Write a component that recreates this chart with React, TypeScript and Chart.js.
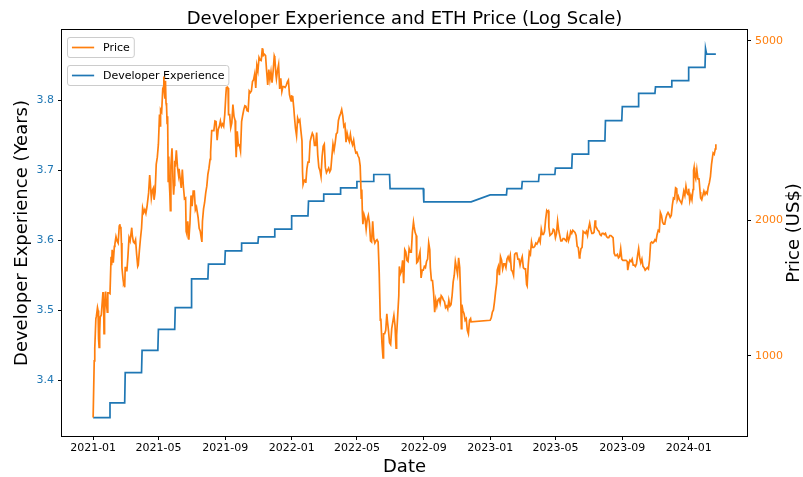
import React, { useEffect, useRef } from 'react';
import { Chart, registerables } from 'chart.js';

Chart.register(...registerables);

const FONT = "'DejaVu Sans', 'Liberation Sans', sans-serif";
const BLUE = '#1f77b4';
const ORANGE = '#ff7f0e';

const TITLE = 'Developer Experience and ETH Price (Log Scale)';
const X_TITLE = 'Date';
const Y_LEFT_TITLE = 'Developer Experience (Years)';
const Y_RIGHT_TITLE = 'Price (US$)';
const PRICE_LABEL = 'Price';
const DEV_LABEL = 'Developer Experience';

const xTickLabels = ['2021-01', '2021-05', '2021-09', '2022-01', '2022-05', '2022-09', '2023-01', '2023-05', '2023-09', '2024-01'];
const devTicks = [3.4, 3.5, 3.6, 3.7, 3.8];
const priceTicks = [1000, 2000, 5000];

// ETH price (US$): month, days of month, values (row i of days/values belongs to month i)
const priceMonths = [
  '2021-01', '2021-02', '2021-03', '2021-04', '2021-05', '2021-06', '2021-07', '2021-08', '2021-09', '2021-10', '2021-11', '2021-12',
  '2022-01', '2022-02', '2022-03', '2022-04', '2022-05', '2022-06', '2022-07', '2022-08', '2022-09', '2022-10', '2022-11',
  '2023-01', '2023-02', '2023-03', '2023-04', '2023-05', '2023-06', '2023-07', '2023-08', '2023-09', '2023-10', '2023-11', '2023-12',
  '2024-01', '2024-02',
];
const priceDays = [
  [1, 3, 4, 6, 7, 9, 10, 11, 12, 13, 14, 16, 19, 20, 21, 22, 24, 25, 27, 28, 30],
  [1, 3, 4, 5, 7, 9, 10, 12, 14, 16, 18, 19, 20, 21, 22, 23, 25, 26, 27, 28],
  [1, 3, 4, 6, 8, 10, 13, 14, 16, 18, 20, 22, 24, 25, 27, 29, 31],
  [2, 4, 6, 8, 10, 13, 15, 16, 18, 20, 22, 23, 25, 27, 29],
  [1, 3, 4, 5, 7, 9, 10, 11, 12, 13, 14, 15, 16, 17, 18, 19, 20, 21, 22, 23, 24, 26, 28, 29, 30, 31],
  [1, 3, 5, 7, 8, 10, 12, 14, 16, 18, 20, 21, 22, 24, 26, 28, 30],
  [2, 4, 6, 8, 10, 13, 15, 17, 19, 20, 21, 23, 25, 27, 29, 31],
  [2, 4, 5, 7, 9, 11, 13, 15, 17, 19, 21, 23, 25, 27, 29, 31],
  [2, 3, 5, 6, 7, 9, 11, 13, 15, 17, 19, 20, 21, 23, 25, 27, 29],
  [1, 3, 5, 7, 9, 11, 13, 15, 17, 19, 21, 23, 25, 27, 29, 31],
  [2, 4, 6, 8, 9, 10, 12, 14, 16, 18, 20, 22, 24, 26, 28, 30],
  [1, 3, 4, 6, 8, 10, 12, 14, 16, 18, 20, 22, 24, 26, 28, 30, 31],
  [1, 3, 5, 6, 8, 10, 12, 14, 16, 18, 20, 21, 22, 24, 26, 27, 29, 31],
  [2, 4, 6, 8, 10, 12, 14, 16, 18, 20, 22, 24, 26, 28],
  [2, 4, 6, 8, 10, 12, 14, 16, 18, 20, 22, 24, 26, 28, 30],
  [1, 3, 5, 7, 9, 11, 13, 15, 17, 19, 21, 23, 25, 27, 29],
  [1, 3, 5, 7, 9, 10, 11, 12, 14, 16, 18, 20, 22, 24, 26, 28, 30],
  [1, 3, 5, 7, 9, 11, 13, 14, 16, 18, 19, 21, 23, 25, 26, 28, 30],
  [2, 4, 6, 8, 10, 12, 13, 15, 17, 18, 20, 22, 24, 26, 28, 30],
  [1, 3, 5, 7, 9, 11, 13, 14, 16, 18, 19, 21, 23, 25, 27, 29, 31],
  [2, 4, 6, 8, 10, 12, 13, 15, 17, 19, 21, 23, 25, 27, 29],
  [1, 3, 5, 7, 9, 11, 13, 15, 17, 19, 21, 23, 25, 27, 29, 31],
  [2, 4, 6, 8, 9, 10, 12, 14, 16, 18, 20, 22, 24, 26, 27],
  [1, 3, 5, 7, 9, 11, 13, 14, 16, 18, 20, 22, 24, 26, 28, 30],
  [1, 3, 5, 7, 9, 11, 13, 15, 17, 19, 21, 23, 25, 27],
  [1, 3, 5, 7, 9, 10, 12, 14, 16, 18, 20, 22, 24, 26, 28, 30],
  [1, 3, 5, 7, 9, 11, 13, 15, 16, 18, 19, 21, 23, 25, 27, 29],
  [1, 3, 5, 7, 9, 11, 13, 15, 17, 19, 21, 23, 25, 27, 29, 31],
  [2, 4, 6, 8, 10, 12, 14, 15, 17, 19, 21, 23, 25, 27, 29],
  [1, 3, 5, 7, 9, 11, 13, 14, 16, 18, 20, 22, 24, 26, 28, 30],
  [1, 3, 5, 7, 9, 11, 13, 15, 17, 19, 21, 23, 25, 27, 29, 31],
  [2, 4, 6, 8, 10, 11, 13, 15, 17, 19, 21, 23, 25, 27, 29],
  [1, 3, 5, 7, 9, 11, 13, 15, 17, 19, 21, 23, 25, 27, 29, 31],
  [2, 4, 6, 8, 10, 12, 14, 16, 18, 20, 22, 24, 26, 28, 30],
  [2, 4, 6, 8, 10, 11, 13, 15, 17, 19, 21, 23, 25, 27, 29, 31],
  [1, 3, 5, 7, 9, 10, 11, 12, 14, 16, 18, 20, 22, 23, 25, 27, 29, 31],
  [2, 4, 6, 8, 10, 12, 14, 15, 17, 19, 20],
];
const priceValues = [
  [730, 975, 1040, 1208, 1225, 1280, 1262, 1090, 1045, 1130, 1220, 1233, 1380, 1380, 1120, 1235, 1390, 1325, 1250, 1380, 1380],
  [1375, 1660, 1590, 1720, 1610, 1750, 1770, 1840, 1800, 1780, 1940, 1960, 1920, 1935, 1780, 1570, 1480, 1450, 1460, 1420],
  [1570, 1570, 1540, 1665, 1830, 1800, 1925, 1850, 1790, 1780, 1810, 1680, 1580, 1590, 1710, 1820, 1920],
  [2130, 2080, 2110, 2070, 2140, 2300, 2520, 2430, 2240, 2330, 2360, 2220, 2310, 2660, 2760],
  [2950, 3430, 3240, 3520, 3480, 3910, 3950, 4170, 3830, 3720, 4080, 3640, 3580, 3280, 3400, 2440, 2770, 2430, 2300, 2100, 2640, 2890, 2420, 2280, 2390, 2710],
  [2630, 2860, 2630, 2520, 2600, 2470, 2360, 2590, 2370, 2230, 2240, 1890, 1870, 1990, 1810, 1970, 2270],
  [2150, 2320, 2320, 2110, 2140, 2030, 1920, 1890, 1820, 1790, 1990, 2120, 2190, 2300, 2380, 2530],
  [2610, 2730, 2830, 3160, 3160, 3160, 3320, 3310, 3010, 3180, 3230, 3320, 3230, 3270, 3230, 3430],
  [3790, 3940, 3950, 3930, 3430, 3430, 3210, 3290, 3610, 3400, 3330, 2980, 2760, 3150, 2930, 2940, 2850],
  [3310, 3420, 3520, 3590, 3580, 3500, 3490, 3870, 3840, 3870, 4060, 4100, 4220, 3930, 4410, 4290],
  [4590, 4530, 4520, 4800, 4810, 4640, 4670, 4640, 4280, 3990, 4320, 4100, 4270, 4040, 4290, 4630],
  [4590, 4220, 4120, 4300, 4430, 3910, 4130, 3860, 3960, 3960, 3940, 3980, 4050, 4090, 3800, 3710, 3680],
  [3770, 3760, 3540, 3410, 3200, 3080, 3370, 3310, 3340, 3160, 3000, 2560, 2400, 2450, 2460, 2420, 2600, 2690],
  [2690, 2990, 3060, 3120, 3080, 2930, 2930, 3130, 2790, 2620, 2580, 2500, 2770, 2920],
  [2950, 2620, 2550, 2580, 2610, 2560, 2590, 2770, 2950, 2860, 2970, 3110, 3130, 3330, 3400],
  [3450, 3520, 3410, 3230, 3260, 2980, 3120, 3040, 2990, 3100, 2990, 2940, 3010, 2890, 2820],
  [2830, 2780, 2750, 2640, 2240, 2340, 2080, 1960, 2060, 2020, 1910, 2010, 2050, 1970, 1800, 1790, 1990],
  [1820, 1780, 1800, 1810, 1790, 1530, 1200, 1210, 1070, 990, 1120, 1120, 1140, 1240, 1200, 1140, 1070],
  [1060, 1150, 1190, 1230, 1170, 1040, 1110, 1230, 1360, 1580, 1520, 1540, 1630, 1450, 1720, 1700],
  [1630, 1620, 1730, 1700, 1700, 1880, 1980, 1940, 1880, 1850, 1610, 1620, 1660, 1700, 1490, 1550, 1550],
  [1580, 1570, 1620, 1640, 1780, 1720, 1570, 1470, 1470, 1380, 1250, 1330, 1290, 1330, 1340],
  [1310, 1360, 1350, 1330, 1320, 1280, 1290, 1270, 1330, 1290, 1300, 1360, 1460, 1510, 1620, 1570],
  [1520, 1650, 1570, 1330, 1150, 1300, 1260, 1240, 1200, 1210, 1140, 1120, 1200, 1210, 1190],
  [1200, 1215, 1250, 1265, 1320, 1390, 1450, 1550, 1580, 1510, 1660, 1630, 1560, 1600, 1600, 1570],
  [1640, 1660, 1630, 1670, 1550, 1540, 1510, 1680, 1690, 1690, 1640, 1640, 1590, 1630],
  [1660, 1570, 1560, 1560, 1440, 1430, 1590, 1700, 1680, 1790, 1740, 1740, 1750, 1780, 1770, 1790],
  [1820, 1790, 1910, 1860, 1860, 1890, 2010, 2100, 2090, 2100, 1930, 1850, 1860, 1870, 1910, 1900],
  [1830, 1870, 1990, 1900, 1850, 1800, 1800, 1820, 1820, 1810, 1800, 1860, 1800, 1830, 1890, 1870],
  [1900, 1890, 1880, 1850, 1750, 1740, 1650, 1670, 1730, 1740, 1890, 1880, 1870, 1890, 1850],
  [1920, 1970, 1910, 1870, 1870, 1880, 2000, 1940, 1920, 1900, 1890, 1860, 1850, 1870, 1870, 1860],
  [1870, 1840, 1830, 1830, 1850, 1850, 1840, 1830, 1690, 1670, 1670, 1680, 1650, 1660, 1730, 1640],
  [1630, 1630, 1630, 1630, 1620, 1550, 1600, 1630, 1620, 1640, 1590, 1590, 1580, 1600, 1670],
  [1730, 1650, 1610, 1640, 1580, 1570, 1550, 1560, 1570, 1560, 1630, 1780, 1790, 1780, 1790, 1810],
  [1800, 1860, 1900, 1890, 2080, 2050, 1980, 1960, 1960, 2020, 2060, 2080, 2060, 2030, 2050],
  [2160, 2240, 2230, 2360, 2350, 2220, 2260, 2220, 2200, 2180, 2240, 2320, 2270, 2380, 2300, 2280],
  [2350, 2210, 2270, 2220, 2340, 2580, 2620, 2520, 2470, 2590, 2470, 2470, 2310, 2240, 2220, 2270, 2320, 2280],
  [2310, 2290, 2370, 2420, 2500, 2660, 2770, 2820, 2800, 2880, 2950],
];

// Developer experience (years): value held from each date to the next
const devDates = [
  '2021-01-01', '2021-01-31', '2021-02-01', '2021-02-28', '2021-03-01', '2021-03-31', '2021-04-01', '2021-04-30',
  '2021-05-01', '2021-05-31', '2021-06-01', '2021-06-30', '2021-07-01', '2021-07-31', '2021-08-01', '2021-08-31',
  '2021-09-01', '2021-09-30', '2021-10-01', '2021-10-31', '2021-11-01', '2021-11-30', '2021-12-01', '2021-12-31',
  '2022-01-01', '2022-01-31', '2022-02-01', '2022-02-28', '2022-03-01', '2022-03-31', '2022-04-01', '2022-04-30',
  '2022-05-01', '2022-05-31', '2022-06-01', '2022-06-30', '2022-07-01', '2022-08-31', '2022-09-01', '2022-11-27',
  '2023-01-01', '2023-01-31', '2023-02-01', '2023-02-28', '2023-03-01', '2023-03-31', '2023-04-01', '2023-04-30',
  '2023-05-01', '2023-05-31', '2023-06-01', '2023-06-30', '2023-07-01', '2023-07-31', '2023-08-01', '2023-08-31',
  '2023-09-01', '2023-09-30', '2023-10-01', '2023-10-31', '2023-11-01', '2023-11-30', '2023-12-01', '2023-12-31',
  '2024-01-01', '2024-01-31', '2024-02-01', '2024-02-03', '2024-02-20',
];
const devValues = [
  3.347, 3.347, 3.368, 3.368, 3.411, 3.411, 3.443, 3.443,
  3.473, 3.473, 3.504, 3.504, 3.545, 3.545, 3.566, 3.566,
  3.585, 3.585, 3.596, 3.596, 3.605, 3.605, 3.616, 3.616,
  3.635, 3.635, 3.656, 3.656, 3.666, 3.666, 3.675, 3.675,
  3.684, 3.684, 3.694, 3.694, 3.674, 3.674, 3.655, 3.655,
  3.665, 3.665, 3.674, 3.674, 3.684, 3.684, 3.694, 3.694,
  3.703, 3.703, 3.723, 3.723, 3.742, 3.742, 3.771, 3.771,
  3.791, 3.791, 3.810, 3.810, 3.819, 3.819, 3.828, 3.828,
  3.847, 3.847, 3.874, 3.866, 3.866,
];

const ORIGIN = Date.UTC(2021, 0, 1);
function dayIndex(s: string): number {
  const [y, m, d] = s.split('-').map(Number);
  return (Date.UTC(y, m - 1, d || 1) - ORIGIN) / 86400000;
}

function buildPricePoints() {
  const pts: { x: number; y: number }[] = [];
  priceMonths.forEach((m, i) => {
    priceDays[i].forEach((d, j) => {
      pts.push({ x: dayIndex(`${m}-${String(d).padStart(2, '0')}`), y: priceValues[i][j] });
    });
  });
  return pts;
}

function drawLegendBox(ctx: CanvasRenderingContext2D, x: number, y: number, label: string, color: string) {
  const fs = 11.1;
  ctx.save();
  ctx.font = `11px ${FONT}`;
  const pad = 0.4 * fs;
  const handle = 2 * fs;
  const gap = 0.8 * fs;
  const tw = ctx.measureText(label).width;
  const w = pad + handle + gap + tw + pad;
  const h = 20;
  const r = 2.5;
  ctx.beginPath();
  ctx.moveTo(x + r, y);
  ctx.lineTo(x + w - r, y);
  ctx.arcTo(x + w, y, x + w, y + r, r);
  ctx.lineTo(x + w, y + h - r);
  ctx.arcTo(x + w, y + h, x + w - r, y + h, r);
  ctx.lineTo(x + r, y + h);
  ctx.arcTo(x, y + h, x, y + h - r, r);
  ctx.lineTo(x, y + r);
  ctx.arcTo(x, y, x + r, y, r);
  ctx.closePath();
  ctx.fillStyle = 'rgba(255,255,255,0.8)';
  ctx.fill();
  ctx.strokeStyle = '#cccccc';
  ctx.lineWidth = 1;
  ctx.stroke();
  const cy = y + h / 2;
  ctx.beginPath();
  ctx.moveTo(x + pad, cy);
  ctx.lineTo(x + pad + handle, cy);
  ctx.strokeStyle = color;
  ctx.lineWidth = 1.7;
  ctx.stroke();
  ctx.fillStyle = '#000';
  ctx.textBaseline = 'middle';
  ctx.textAlign = 'left';
  ctx.fillText(label, x + pad + handle + gap, cy + 0.5);
  ctx.restore();
}

const decorPlugin = {
  id: 'decor',
  afterDatasetDraw(chart: any, args: any) {
    if (args.index === 1) drawLegendBox(chart.ctx, 67.5, 65.5, DEV_LABEL, BLUE);
  },
  afterDatasetsDraw(chart: any) {
    const ctx: CanvasRenderingContext2D = chart.ctx;
    const a = chart.chartArea;
    drawLegendBox(ctx, 67.5, 37.5, PRICE_LABEL, ORANGE);
    ctx.save();
    ctx.strokeStyle = '#000';
    ctx.lineWidth = 1;
    ctx.strokeRect(Math.round(a.left) - 0.5, Math.round(a.top) - 0.5, Math.round(a.right - a.left) + 1, Math.round(a.bottom - a.top) + 1);
    ctx.restore();
  },
  afterDraw(chart: any) {
    const ctx: CanvasRenderingContext2D = chart.ctx;
    const a = chart.chartArea;
    const cx = (a.left + a.right) / 2;
    const cy = (a.top + a.bottom) / 2;
    ctx.save();
    ctx.fillStyle = '#000';
    ctx.font = `18px ${FONT}`;
    ctx.textAlign = 'center';
    ctx.textBaseline = 'alphabetic';
    ctx.fillText(TITLE, cx, 24);
    ctx.fillText(X_TITLE, cx, 472);
    ctx.save();
    ctx.translate(27, cy);
    ctx.rotate(-Math.PI / 2);
    ctx.fillText(Y_LEFT_TITLE, 0, 0);
    ctx.restore();
    ctx.save();
    ctx.translate(799, cy);
    ctx.rotate(-Math.PI / 2);
    ctx.fillText(Y_RIGHT_TITLE, 0, 0);
    ctx.restore();
    ctx.restore();
  },
};

export default function App() {
  const ref = useRef<HTMLCanvasElement | null>(null);

  useEffect(() => {
    if (!ref.current) return;
    Chart.defaults.font.family = FONT;
    const pricePoints = buildPricePoints();
    const devPoints = devDates.map((d, i) => ({ x: dayIndex(d), y: devValues[i] }));

    const xs = pricePoints.map((p) => p.x).concat(devPoints.map((p) => p.x));
    const xMin = Math.min(...xs);
    const xMax = Math.max(...xs);
    const xPad = (xMax - xMin) * 0.05;

    const dMin = Math.min(...devValues);
    const dMax = Math.max(...devValues);
    const dPad = (dMax - dMin) * 0.05;

    const lMin = Math.log10(Math.min(...pricePoints.map((p) => p.y)));
    const lMax = Math.log10(Math.max(...pricePoints.map((p) => p.y)));
    const lPad = (lMax - lMin) * 0.05;

    const tickGrid = { drawOnChartArea: false, drawTicks: true, tickLength: 4, tickColor: '#000', tickWidth: 1 };

    const chart = new Chart(ref.current, {
      type: 'line',
      data: {
        datasets: [
          {
            label: PRICE_LABEL,
            data: pricePoints,
            yAxisID: 'yPrice',
            borderColor: ORANGE,
            backgroundColor: ORANGE,
            borderWidth: 1.7,
            pointRadius: 0,
            tension: 0,
          },
          {
            label: DEV_LABEL,
            data: devPoints,
            yAxisID: 'yDev',
            borderColor: BLUE,
            backgroundColor: BLUE,
            borderWidth: 1.7,
            pointRadius: 0,
            tension: 0,
          },
        ],
      },
      options: {
        responsive: false,
        animation: false,
        devicePixelRatio: 1,
        layout: { padding: { top: 30, left: 0, right: 0, bottom: 0 } },
        plugins: { legend: { display: false }, tooltip: { enabled: false }, title: { display: false } },
        scales: {
          x: {
            type: 'linear',
            min: xMin - xPad,
            max: xMax + xPad,
            afterBuildTicks: (s: any) => {
              s.ticks = xTickLabels.map((l) => ({ value: dayIndex(l) }));
            },
            ticks: {
              autoSkip: false,
              maxRotation: 0,
              color: '#000',
              font: { size: 11, family: FONT },
              padding: 2,
              callback: (_v: any, i: number) => xTickLabels[i],
            },
            grid: tickGrid,
            border: { display: false },
            afterFit: (s: any) => {
              s.height = 41;
            },
          },
          yDev: {
            type: 'linear',
            position: 'left',
            min: dMin - dPad,
            max: dMax + dPad,
            afterBuildTicks: (s: any) => {
              s.ticks = devTicks.map((v) => ({ value: v }));
            },
            ticks: {
              color: BLUE,
              font: { size: 11, family: FONT },
              padding: 4,
              callback: (_v: any, i: number) => devTicks[i].toFixed(1),
            },
            grid: tickGrid,
            border: { display: false },
            afterFit: (s: any) => {
              s.width = 62;
            },
          },
          yPrice: {
            type: 'logarithmic',
            position: 'right',
            min: Math.pow(10, lMin - lPad),
            max: Math.pow(10, lMax + lPad),
            afterBuildTicks: (s: any) => {
              s.ticks = priceTicks.map((v) => ({ value: v }));
            },
            ticks: {
              color: ORANGE,
              font: { size: 11, family: FONT },
              padding: 4,
              callback: (_v: any, i: number) => String(priceTicks[i]),
            },
            grid: tickGrid,
            border: { display: false },
            afterFit: (s: any) => {
              s.width = 56;
            },
          },
        },
      } as any,
      plugins: [decorPlugin as any],
    });
    return () => chart.destroy();
  }, []);

  return (
    <div style={{ position: 'absolute', left: 0, top: 0, width: 803, height: 477, background: '#fff' }}>
      <canvas ref={ref} width={803} height={477} />
    </div>
  );
}
